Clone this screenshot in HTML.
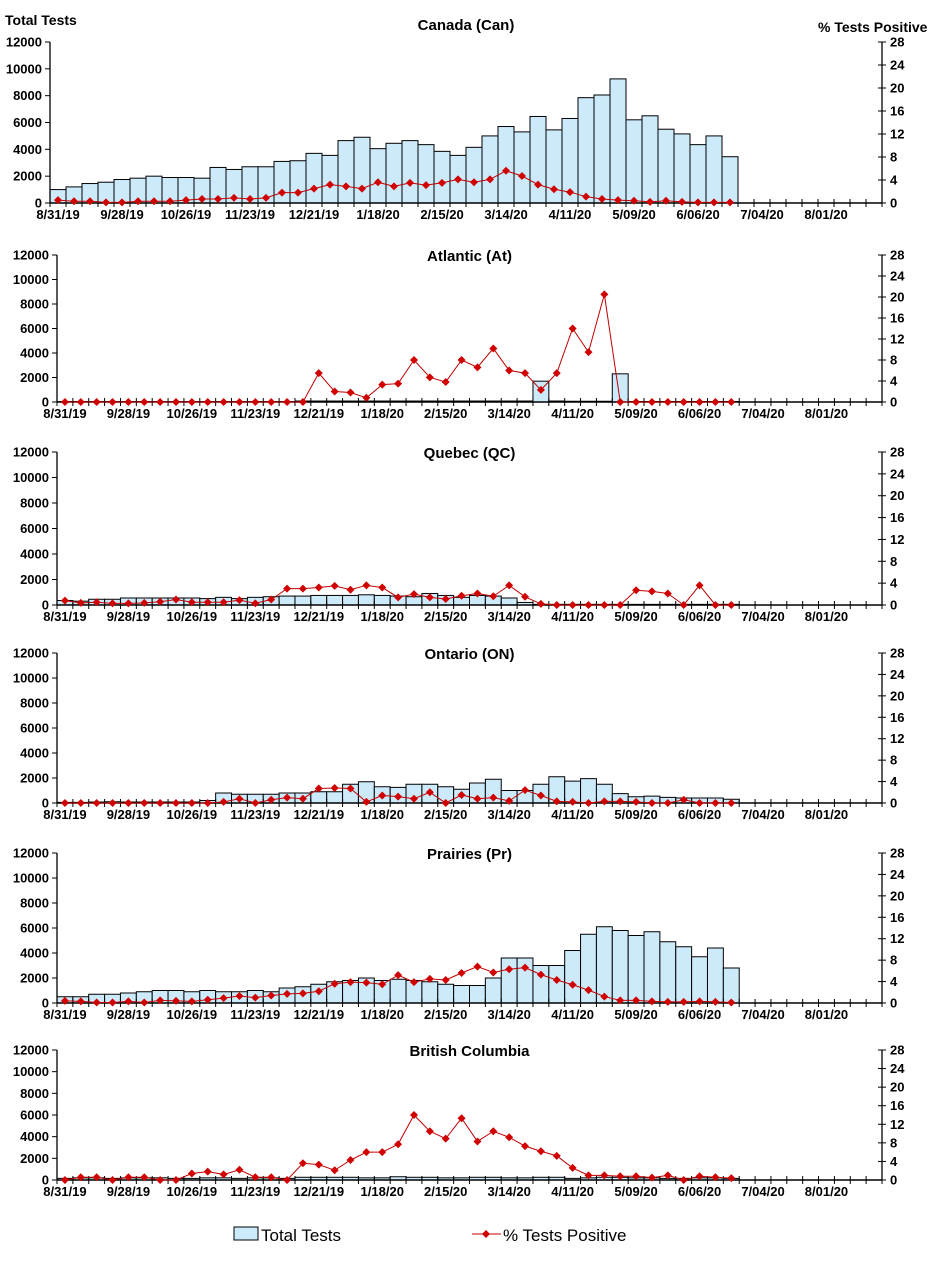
<!DOCTYPE html>
<html><head><meta charset="utf-8"><style>
body{margin:0;background:#fff}
svg text{font-family:"Liberation Sans",Arial,sans-serif}
</style></head><body>
<svg id="s" width="934" height="1257" xmlns="http://www.w3.org/2000/svg"></svg>
<script>
const P=[
{t:"Canada (Can)",L:50,R:882,T:42,B:203,
b:[1000,1200,1450,1550,1750,1850,2000,1900,1900,1850,2650,2500,2700,2700,3100,3150,3700,3550,4650,4900,4050,4450,4650,4350,3850,3550,4150,5000,5700,5300,6450,5450,6300,7850,8050,9250,6200,6500,5500,5150,4350,5000,3450],
p:[0.5,0.3,0.3,0.1,0.1,0.3,0.3,0.3,0.5,0.7,0.7,0.9,0.7,0.9,1.8,1.8,2.5,3.2,2.9,2.5,3.6,2.9,3.5,3.1,3.5,4.1,3.6,4.1,5.6,4.7,3.2,2.4,1.9,1.1,0.7,0.5,0.4,0.2,0.4,0.2,0.1,0.1,0.1]},
{t:"Atlantic (At)",L:57,R:882,T:255,B:402,
b:[30,30,30,30,30,30,30,30,30,30,30,30,30,30,30,80,80,80,80,80,80,80,80,80,80,80,80,80,80,80,1700,80,60,60,60,2300,40,40,40,40,40,40,40],
p:[0,0,0,0,0,0,0,0,0,0,0,0,0,0,0,0,5.5,2,1.8,0.8,3.3,3.5,8,4.7,3.8,8,6.6,10.2,6,5.5,2.3,5.5,14,9.5,20.5,0,0,0,0,0,0,0,0]},
{t:"Quebec (QC)",L:57,R:882,T:452,B:605,
b:[350,300,450,450,550,550,550,550,550,500,600,500,600,650,700,700,750,750,750,800,750,700,650,900,750,600,750,700,550,200,50,50,50,50,50,50,50,50,50,50,50,50,50],
p:[0.8,0.4,0.5,0.3,0.3,0.4,0.6,1,0.5,0.5,0.5,0.9,0.3,1,3,3,3.2,3.5,2.8,3.6,3.2,1.4,2,1.4,1.1,1.7,2.1,1.6,3.6,1.5,0.2,0,0,0,0,0,2.7,2.5,2.1,0,3.6,0,0]},
{t:"Ontario (ON)",L:57,R:882,T:653,B:803,
b:[50,50,80,100,80,80,80,80,80,200,800,700,700,700,800,800,900,900,1500,1700,1300,1250,1500,1500,1300,1100,1600,1900,1000,1000,1500,2100,1750,1950,1500,750,500,550,450,400,400,400,300],
p:[0,0,0,0,0,0,0,0,0,0,0.2,0.8,0,0.6,1.0,0.8,2.7,2.8,2.7,0.2,1.4,1.2,0.8,2.0,0,1.5,0.8,1.0,0.4,2.4,1.4,0.3,0.2,0,0.3,0.3,0.2,0,0,0.6,0,0,0]},
{t:"Prairies (Pr)",L:57,R:882,T:853,B:1003,
b:[500,500,700,700,800,900,1000,1000,900,1000,900,900,1000,900,1200,1300,1500,1700,1800,2000,1800,1900,1800,1700,1500,1400,1400,2000,3600,3600,3000,3000,4200,5500,6100,5800,5400,5700,4900,4500,3700,4400,2800],
p:[0.4,0.3,0.1,0.1,0.3,0.1,0.5,0.4,0.3,0.6,0.9,1.3,1.0,1.4,1.7,1.8,2.2,3.6,3.9,3.8,3.5,5.2,3.9,4.5,4.3,5.6,6.8,5.7,6.3,6.6,5.3,4.3,3.4,2.4,1.2,0.5,0.5,0.3,0.2,0.2,0.3,0.2,0.1]},
{t:"British Columbia",L:57,R:882,T:1050,B:1180,
b:[150,200,200,150,200,200,200,150,150,200,200,150,200,200,150,250,250,250,250,200,200,300,250,250,200,200,250,250,200,200,250,250,150,200,250,250,200,200,150,150,200,200,150],
p:[0,0.6,0.6,0,0.6,0.6,0,0,1.4,1.8,1.2,2.2,0.6,0.6,0,3.6,3.3,2.1,4.3,6,6,7.7,14,10.5,8.9,13.3,8.3,10.5,9.2,7.3,6.2,5.2,2.6,1.0,1.0,0.8,0.8,0.5,1.0,0,0.8,0.6,0.4]}
];
const labs=["8/31/19","9/28/19","10/26/19","11/23/19","12/21/19","1/18/20","2/15/20","3/14/20","4/11/20","5/09/20","6/06/20","7/04/20","8/01/20"];
let h='';
h+='<text x="5" y="25" font-size="14" font-weight="bold">Total Tests</text>';
h+='<text x="818" y="32" font-size="14" font-weight="bold">%  Tests Positive</text>';
for(const q of P){
 const w=(q.R-q.L)/52,H=q.B-q.T;
 const yb=v=>q.B-v/12000*H, yp=v=>q.B-v/28*H;
 h+=`<text x="${(q.L+q.R)/2}" y="${q.T-12+(q.t.startsWith('Canada')?0:18)}" font-size="15" font-weight="bold" text-anchor="middle">${q.t}</text>`;
 q.b.forEach((v,i)=>{const y=yb(v);h+=`<rect x="${q.L+i*w}" y="${y}" width="${w}" height="${q.B-y}" fill="#cdeafb" stroke="#000" stroke-width="1"/>`});
 h+=`<line x1="${q.L}" y1="${q.T}" x2="${q.L}" y2="${q.B}" stroke="#000" stroke-width="1.3"/>`;
 h+=`<line x1="${q.R}" y1="${q.T}" x2="${q.R}" y2="${q.B}" stroke="#000" stroke-width="1.3"/>`;
 h+=`<line x1="${q.L}" y1="${q.B}" x2="${q.R}" y2="${q.B}" stroke="#000" stroke-width="1.5"/>`;
 for(let k=0;k<=6;k++){const y=q.T+k*H/6;
  h+=`<line x1="${q.L-5}" y1="${y}" x2="${q.L}" y2="${y}" stroke="#000"/>`;
  h+=`<text x="${q.L-8}" y="${y+4.5}" font-size="13" font-weight="bold" text-anchor="end">${12000-k*2000}</text>`;}
 for(let k=0;k<=7;k++){const y=q.T+k*H/7;
  h+=`<line x1="${q.R-4}" y1="${y}" x2="${q.R+4}" y2="${y}" stroke="#000"/>`;
  h+=`<text x="${q.R+8}" y="${y+4.5}" font-size="13" font-weight="bold">${28-k*4}</text>`;}
 for(let i=0;i<=52;i++){const x=q.L+i*w;h+=`<line x1="${x}" y1="${q.B-4}" x2="${x}" y2="${q.B+4}" stroke="#000"/>`}
 labs.forEach((s,j)=>{h+=`<text x="${q.L+j*4*w+w/2}" y="${q.B+16}" font-size="13" font-weight="bold" text-anchor="middle">${s}</text>`});
 const pts=q.p.map((v,i)=>[q.L+i*w+w/2,yp(v)]);
 h+=`<polyline points="${pts.map(p=>p.join(',')).join(' ')}" fill="none" stroke="#c00000" stroke-width="1"/>`;
 pts.forEach(([x,y])=>{h+=`<path d="M${x} ${y-4}L${x+4} ${y}L${x} ${y+4}L${x-4} ${y}Z" fill="#d00000"/>`});
}
h+='<rect x="234" y="1227" width="24" height="13" fill="#cdeafb" stroke="#000"/>';
h+='<text x="261" y="1241" font-size="17">Total Tests</text>';
h+='<line x1="472" y1="1234" x2="501" y2="1234" stroke="#c00000"/><path d="M486 1230L490 1234L486 1238L482 1234Z" fill="#d00000"/>';
h+='<text x="503" y="1241" font-size="17">% Tests Positive</text>';
document.getElementById('s').innerHTML=h;
</script>
</body></html>
